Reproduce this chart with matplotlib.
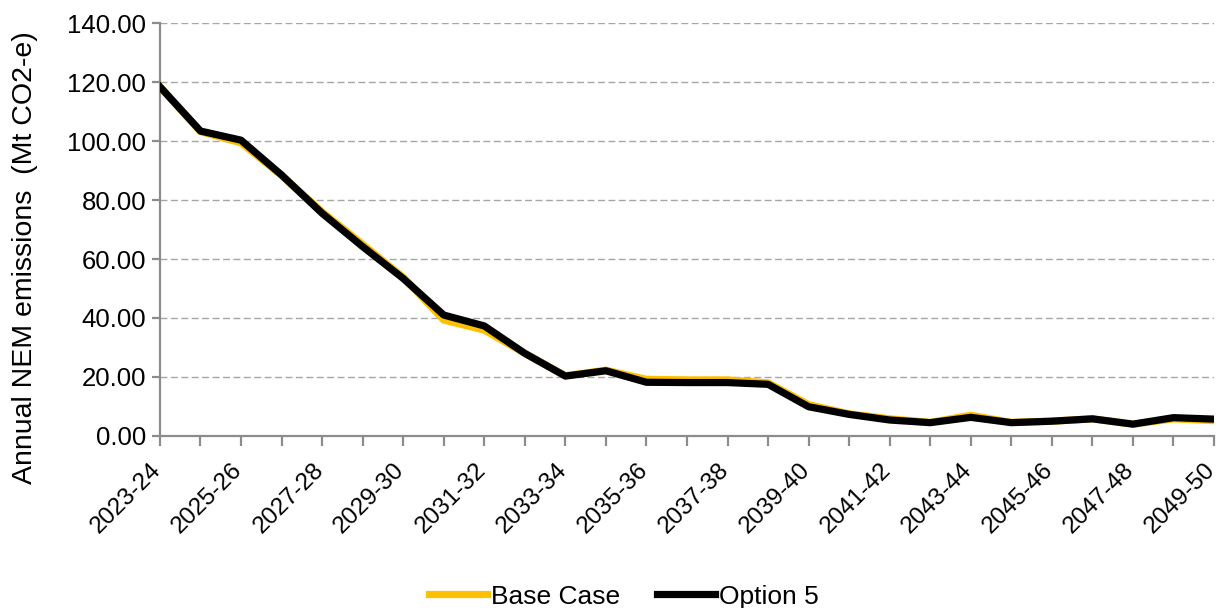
import matplotlib
matplotlib.use('Agg')
import matplotlib.pyplot as plt
import matplotlib.transforms as mtransforms
import numpy as np

plt.rcParams['font.family'] = ['Liberation Sans', 'DejaVu Sans']

# ── Data ──────────────────────────────────────────────────────────
years = [f"{y}-{str(y + 1)[-2:]}" for y in range(2023, 2050)]

base_case = [118.4, 103.2, 99.4, 88.3, 76.0, 65.0, 53.8, 39.3, 35.9, 28.0,
             20.4, 22.3, 19.2, 19.0, 19.0, 18.0, 10.6, 7.5, 5.8, 4.6,
             7.0, 4.6, 5.0, 5.8, 4.0, 5.8, 5.2]
option_5 = [118.4, 103.4, 100.3, 88.5, 75.5, 64.2, 53.4, 41.0, 37.3, 28.0,
            20.3, 22.1, 18.2, 18.1, 18.1, 17.5, 9.9, 7.3, 5.4, 4.5,
            6.3, 4.5, 5.0, 5.8, 4.0, 6.2, 5.7]

YELLOW = '#FFC000'
GREY = '#8C8C8C'

fig = plt.figure(figsize=(12.21, 6.08), dpi=100)
ax = fig.add_axes([0.131, 0.283, 0.8633, 0.679])

x = np.arange(len(years))
ax.plot(x, base_case, color=YELLOW, linewidth=5.2, label='Base Case',
        solid_joinstyle='round', zorder=3)
ax.plot(x, option_5, color='black', linewidth=5.2, label='Option 5',
        solid_joinstyle='round', zorder=4)

# axes styling
ax.set_xlim(0, len(years) - 1)
ax.set_ylim(0, 140)
ax.set_yticks(np.arange(0, 141, 20))
ax.set_yticklabels([f"{v:.2f}" for v in np.arange(0, 141, 20)], fontsize=18.5)
ax.grid(True, axis='y', color='#A6A6A6', linestyle=(0, (5, 2.5)), linewidth=1)
ax.set_axisbelow(True)

for side in ['top', 'right']:
    ax.spines[side].set_visible(False)
for side in ['left', 'bottom']:
    ax.spines[side].set_color(GREY)
    ax.spines[side].set_linewidth(1.6)
ax.tick_params(axis='both', color=GREY, width=1.6, length=6)
ax.tick_params(axis='x', length=7, pad=2)
ax.tick_params(axis='y', pad=4)

ax.set_xticks(x)
ax.set_xticklabels([y if i % 2 == 0 else '' for i, y in enumerate(years)],
                   rotation=45, ha='right', va='center', rotation_mode='anchor',
                   fontsize=17.5)
# push the slanted year labels down below their ticks
shift = mtransforms.ScaledTranslation(-2 / 100, -18 / 100, fig.dpi_scale_trans)
for lbl in ax.get_xticklabels():
    lbl.set_transform(lbl.get_transform() + shift)

ax.set_ylabel('Annual NEM emissions  (Mt CO2-e)', fontsize=20.5)
ax.yaxis.set_label_coords(-0.116, 0.433)

fig.legend(loc='lower center', bbox_to_anchor=(0.511, -0.04), ncol=2,
           frameon=False, fontsize=19, handlelength=2.2, handletextpad=0.15,
           columnspacing=1.4)

fig.savefig('out.png', dpi=100)
plt.close(fig)
